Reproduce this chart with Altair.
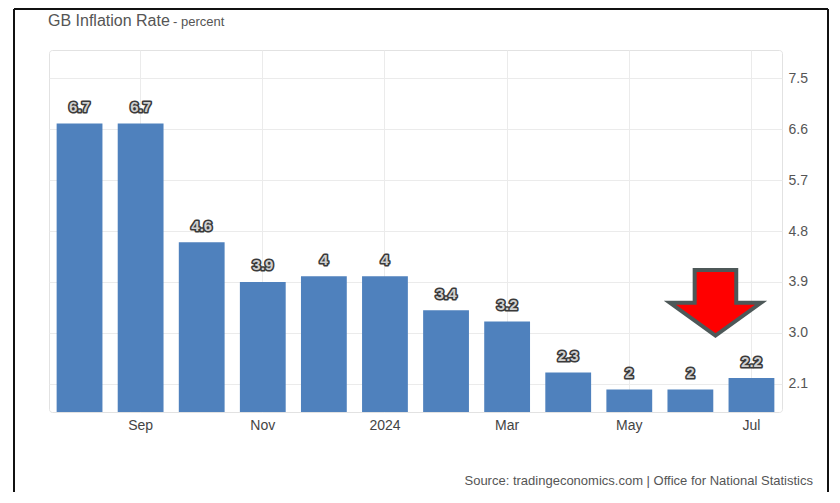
import altair as alt
import pandas as pd

# ---- data ----
months = ["Aug", "Sep", "Oct", "Nov", "Dec", "2024", "Feb", "Mar", "Apr", "May", "Jun", "Jul"]
rates = [6.7, 6.7, 4.6, 3.9, 4.0, 4.0, 3.4, 3.2, 2.3, 2.0, 2.0, 2.2]
rate_labels = ["6.7", "6.7", "4.6", "3.9", "4", "4", "3.4", "3.2", "2.3", "2", "2", "2.2"]
x_tick_months = ["Sep", "Nov", "2024", "Mar", "May", "Jul"]
y_ticks = [2.1, 3.0, 3.9, 4.8, 5.7, 6.6, 7.5]
y_domain = [1.6, 8.0]
arrow_month = ["Jul"]
arrow_level = [3.53]

W, H = 733, 362
FONT = "Liberation Sans"
GRID = "#ebebeb"

df = pd.DataFrame({"month": months, "rate": rates, "label": rate_labels})
arrow_df = pd.DataFrame({"month": arrow_month, "rate": arrow_level})
one = pd.DataFrame({"k": [0]})

x_enc = alt.X(
    "month:N",
    sort=months,
    scale=alt.Scale(paddingInner=0.25, paddingOuter=0.125),
    axis=alt.Axis(
        values=x_tick_months, title=None, labelAngle=0, ticks=False, domain=False,
        grid=True, bandPosition=0.5, gridColor=GRID, labelFont=FONT,
        labelFontSize=14, labelColor="#444444", labelPadding=6,
    ),
)
y_enc = alt.Y(
    "rate:Q",
    scale=alt.Scale(domain=y_domain, nice=False, zero=False),
    axis=alt.Axis(
        orient="right", values=y_ticks, format=".1f", title=None, ticks=False,
        domain=False, gridColor=GRID, labelFont=FONT, labelFontSize=14,
        labelColor="#555555", labelPadding=6,
    ),
)

base = alt.Chart(df)

bars = base.mark_bar(color="#4f81bd").encode(
    x=x_enc, y=y_enc, y2=alt.datum(y_domain[0])
)

label_kw = dict(dy=-11.5, baseline="alphabetic", align="center", font=FONT,
                fontWeight="bold", fontSize=15)
label_outline = base.mark_text(stroke="#3a3a3a", strokeWidth=3.2, fill="#3a3a3a",
                               strokeJoin="round", **label_kw).encode(
    x=alt.X("month:N", sort=months), y="rate:Q", text="label:N"
)
label_fill = base.mark_text(fill="#d0d0d0", **label_kw).encode(
    x=alt.X("month:N", sort=months), y="rate:Q", text="label:N"
)

arrow_path = "M -0.457 -0.72 L 0.457 -0.72 L 0.457 0 L 1 0 L 0 0.72 L -1 0 L -0.457 0 Z"
arrow = alt.Chart(arrow_df).mark_point(
    shape=arrow_path, size=8281, filled=True, fill="#ff0000", stroke="#4d5858",
    strokeWidth=4, opacity=1, strokeJoin="miter", xOffset=-36,
).encode(x=alt.X("month:N", sort=months), y="rate:Q")

title_main = alt.Chart(one).mark_text(
    text="GB Inflation Rate", align="left", baseline="alphabetic", font=FONT,
    fontSize=16, color="#555555",
).encode(x=alt.value(-1), y=alt.value(-24))
title_sub = alt.Chart(one).mark_text(
    text="- percent", align="left", baseline="alphabetic", font=FONT,
    fontSize=13, color="#555555",
).encode(x=alt.value(124), y=alt.value(-24))
source = alt.Chart(one).mark_text(
    text="Source: tradingeconomics.com | Office for National Statistics",
    align="right", baseline="middle", font=FONT, fontSize=13, color="#555555",
).encode(x=alt.value(764), y=alt.value(431))

frame_left = alt.Chart(one).mark_rule(color="#111111", strokeWidth=2).encode(
    x=alt.value(-35), y=alt.value(-41), y2=alt.value(H + 80)
)
frame_right = alt.Chart(one).mark_rule(color="#111111", strokeWidth=2).encode(
    x=alt.value(779), y=alt.value(-41), y2=alt.value(H + 80)
)
frame_top = alt.Chart(one).mark_rule(color="#111111", strokeWidth=2).encode(
    x=alt.value(-35), x2=alt.value(779), y=alt.value(-41)
)

chart = alt.layer(
    bars, label_outline, label_fill, arrow, title_main, title_sub, source,
    frame_left, frame_right, frame_top,
).properties(
    width=W, height=H,
    autosize=alt.AutoSizeParams(type="none"),
    padding={"left": 41, "top": 42, "right": 50, "bottom": 80},
    background="white",
).configure_view(
    stroke="#e2e2e2", strokeWidth=1, cornerRadius=3
)

chart.save("out.html", embed_options={"renderer": "svg", "actions": False})
